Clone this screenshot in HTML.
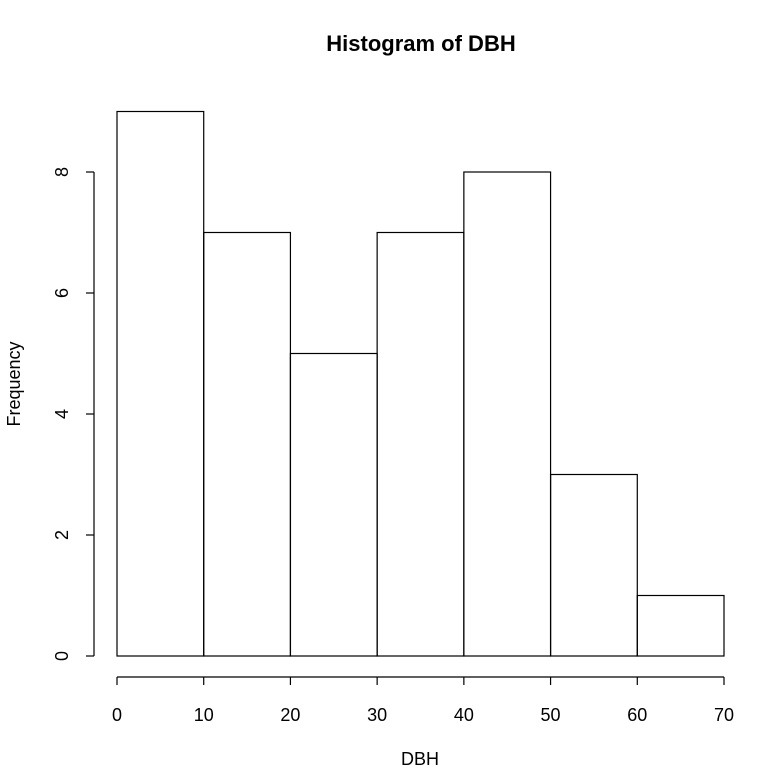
<!DOCTYPE html>
<html><head><meta charset="utf-8"><style>
html,body{margin:0;padding:0;background:#fff;}
svg text{font-family:"Liberation Sans",Arial,sans-serif;fill:#000;}
</style></head><body>
<svg id="chart" width="769" height="768" xmlns="http://www.w3.org/2000/svg">
<text x="421" y="51" text-anchor="middle" font-size="22" font-weight="bold">Histogram of DBH</text>
<text x="420" y="765" text-anchor="middle" font-size="18">DBH</text>
<text transform="translate(20,384) rotate(-90)" text-anchor="middle" font-size="18">Frequency</text>
<g id="bars"></g><g id="xaxis"></g><g id="yaxis"></g>
</svg>
<script>
const binEdges=[0,10,20,30,40,50,60,70];
const counts=[9,7,5,7,8,3,1];
const xTicks=[0,10,20,30,40,50,60,70];
const yTicks=[0,2,4,6,8];
const NS="http://www.w3.org/2000/svg";
const xs=v=>117+(v-0)*(724-117)/70;
const ys=v=>656-v*(656-172)/8;
function mk(tag,attrs,parent){const e=document.createElementNS(NS,tag);for(const k in attrs)e.setAttribute(k,attrs[k]);parent.appendChild(e);return e;}
const bars=document.getElementById('bars');
counts.forEach((c,i)=>{
 const r=mk('rect',{x:xs(binEdges[i]),y:ys(c),width:xs(binEdges[i+1])-xs(binEdges[i]),height:ys(0)-ys(c),fill:'none',stroke:'#000','stroke-width':1.2},bars);
 
 
});
const xa=document.getElementById('xaxis');


mk('line',{x1:xs(xTicks[0]),x2:xs(xTicks[xTicks.length-1]),y1:677,y2:677,stroke:'#000','stroke-width':1.2},xa);
xTicks.forEach(t=>{
 mk('line',{x1:xs(t),x2:xs(t),y1:677,y2:685,stroke:'#000','stroke-width':1.2},xa);
 const tx=mk('text',{x:xs(t),y:721,'text-anchor':'middle','font-size':18},xa);tx.textContent=t;
 
 
});
const ya=document.getElementById('yaxis');


mk('line',{x1:94,x2:94,y1:ys(yTicks[0]),y2:ys(yTicks[yTicks.length-1]),stroke:'#000','stroke-width':1.2},ya);
yTicks.forEach(t=>{
 mk('line',{x1:86,x2:94,y1:ys(t),y2:ys(t),stroke:'#000','stroke-width':1.2},ya);
 const tx=mk('text',{transform:'translate(68,'+ys(t)+') rotate(-90)','text-anchor':'middle','font-size':18},ya);tx.textContent=t;
 
 
});
</script>
</body></html>
